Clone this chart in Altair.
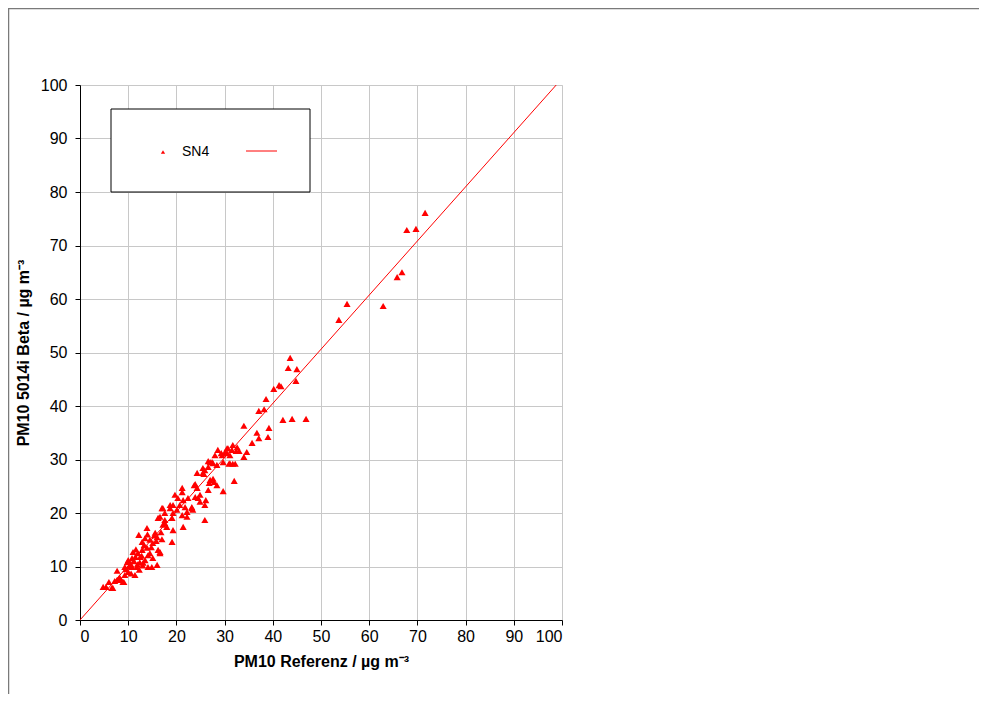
import altair as alt
import pandas as pd

# Measured points: PM10 reference (x) vs PM10 5014i Beta (y)
ref_x = [4.8, 5.4, 6.8, 6.0, 6.6, 7.7, 7.7, 8.5, 8.9, 9.1, 9.3, 10.0, 10.8, 11.4, 9.3, 10.0, 10.8, 11.8,
         12.4, 13.1, 11.0, 12.0, 12.9, 13.9, 14.1, 14.5, 15.1, 13.5, 16.6, 16.2, 12.2, 13.9, 12.9, 13.5,
         14.5, 15.1, 15.6, 16.0, 16.8, 17.0, 17.6, 18.0, 19.1, 19.3, 16.6, 17.2, 18.7, 19.3, 17.6, 16.0,
         14.9, 14.1, 16.6, 21.4, 25.9,
         10.5, 11.2, 12.5, 11.6, 12.8, 13.3, 10.2, 9.8, 11.9, 14.8, 15.4, 13.0, 12.3, 10.6, 14.0, 15.8,
         11.5, 9.5, 8.2, 7.2,
         17.2, 19.1, 21.2, 22.2, 16.2, 17.6, 17.0, 18.7, 19.3, 20.7, 20.1, 21.8, 23.2, 23.4, 22.2, 23.2,
         19.7, 20.3, 21.4, 22.4, 24.5, 24.9, 26.1, 25.9, 21.2, 21.2, 23.9, 24.9, 23.7, 24.3, 23.9, 26.6,
         29.7, 26.8, 28.4, 27.8, 27.0, 27.6, 32.0, 24.3, 25.5, 25.7, 25.9, 26.6, 25.5, 26.6, 27.0, 27.4,
         27.6, 28.4, 29.7, 30.9, 31.1, 31.7, 32.2, 28.0, 31.1, 29.5, 28.6, 29.3, 30.1, 30.5, 31.5, 30.5,
         30.7, 32.4, 33.0, 31.7, 32.6, 34.0, 34.6, 35.7, 34.0, 37.1, 36.7, 39.0, 39.2, 37.1, 38.2, 38.6,
         40.2, 41.3, 41.7, 42.1, 44.0, 46.9, 44.8, 43.2, 45.0, 43.6,
         53.7, 55.4, 62.9, 65.8, 66.8, 67.8, 69.7, 71.6]
beta_y = [6.2, 6.2, 6.0, 7.1, 6.0, 9.2, 7.5, 7.5, 7.1, 7.1, 8.4, 9.0, 9.9, 8.4, 9.9, 11.2, 11.6, 9.9,
          10.8, 10.7, 12.7, 12.5, 13.1, 13.5, 12.1, 12.5, 11.6, 11.2, 12.5, 13.1, 15.9, 17.2, 14.6, 15.3,
          15.0, 14.4, 16.3, 15.5, 16.4, 15.1, 18.1, 17.4, 14.6, 16.8, 19.3, 20.9, 21.5, 20.0, 20.0, 10.3,
          9.9, 9.9, 12.7, 17.4, 18.7,
          10.5, 11.0, 11.8, 13.2, 12.0, 14.0, 10.0, 10.8, 10.4, 13.6, 15.8, 10.2, 9.4, 8.7, 16.0, 14.8,
          11.8, 9.5, 8.0, 7.3,
          17.8, 19.1, 19.6, 19.3, 19.1, 18.7, 20.9, 20.9, 21.5, 21.5, 20.6, 21.1, 21.1, 20.6, 20.2, 20.9,
          23.4, 22.8, 22.4, 22.8, 22.8, 22.1, 22.4, 21.5, 24.7, 23.9, 23.0, 23.4, 25.2, 24.7, 25.4, 24.3,
          24.1, 25.6, 25.2, 25.8, 26.2, 26.4, 26.0, 27.5, 27.5, 27.3, 28.0, 28.6, 28.4, 29.7, 29.5, 29.5,
          29.3, 29.0, 29.5, 29.2, 29.3, 29.2, 29.2, 30.8, 30.8, 30.8, 31.8, 31.2, 31.4, 31.2, 31.8, 32.1,
          32.1, 31.6, 31.6, 32.7, 32.3, 30.5, 31.4, 33.1, 36.3, 34.0, 35.0, 34.2, 35.9, 39.1, 39.4, 41.3,
          43.2, 43.9, 43.7, 37.4, 37.6, 37.6, 44.7, 47.1, 46.9, 49.0,
          56.1, 59.1, 58.7, 64.1, 65.0, 72.9, 73.1, 76.1]

# Fitted line
fit_x = [0.0, 98.8]
fit_y = [0.0, 100.0]

tick_values = [0, 10, 20, 30, 40, 50, 60, 70, 80, 90, 100]
series_name = "SN4"

pts = pd.DataFrame({"x": ref_x, "y": beta_y})
fit = pd.DataFrame({"x": fit_x, "y": fit_y})
one = pd.DataFrame({"label": [series_name]})

FONT = "Liberation Sans"

xs = alt.Scale(domain=[0, 100], nice=False, zero=True)
ys = alt.Scale(domain=[0, 100], nice=False, zero=True)

x_axis = alt.Axis(values=tick_values, title="PM10 Referenz / µg m⁻³", grid=True,
                  gridColor="#c8c8c8", domainColor="black", tickColor="black", tickSize=5,
                  labelFontSize=16, labelColor="black", labelPadding=3,
                  titleFontSize=16, titleFontWeight="bold", titleColor="black", titlePadding=9)
y_axis = alt.Axis(values=tick_values, title="PM10 5014i Beta / µg m⁻³", grid=True,
                  gridColor="#c8c8c8", domainColor="black", tickColor="black", tickSize=5,
                  labelFontSize=16, labelColor="black", labelPadding=8,
                  titleFontSize=16, titleFontWeight="bold", titleColor="black", titlePadding=9)

points = alt.Chart(pts).mark_point(shape="triangle-up", filled=True, color="#ff0000",
                                   size=50, opacity=1).encode(
    x=alt.X("x:Q", scale=xs, axis=x_axis),
    y=alt.Y("y:Q", scale=ys, axis=y_axis),
)

line = alt.Chart(fit).mark_line(color="#ff0000", strokeWidth=1).encode(
    x=alt.X("x:Q", scale=xs), y=alt.Y("y:Q", scale=ys))

# legend box (decoration)
leg_box = alt.Chart(one).mark_rect(fill="white", stroke="black", strokeWidth=1).encode(
    x=alt.value(31), x2=alt.value(230), y=alt.value(24), y2=alt.value(107))
leg_sym = alt.Chart(one).mark_point(shape="triangle-up", filled=True, color="#ff0000",
                                    size=18, opacity=1).encode(
    x=alt.value(83), y=alt.value(67))
leg_txt = alt.Chart(one).mark_text(align="left", baseline="middle", fontSize=14,
                                   font=FONT, color="black").encode(
    x=alt.value(102), y=alt.value(67), text="label:N")
leg_line = alt.Chart(one).mark_rule(color="#ff0000", strokeWidth=1).encode(
    x=alt.value(166), x2=alt.value(197), y=alt.value(66))

# outer chart frame (top and left edges)
frame_top = alt.Chart(one).mark_rule(color="#7a7a7a", strokeWidth=1.5).encode(
    x=alt.value(-72), x2=alt.value(900), y=alt.value(-76.5))
frame_left = alt.Chart(one).mark_rule(color="#7a7a7a", strokeWidth=1.5).encode(
    x=alt.value(-71.5), y=alt.value(-77), y2=alt.value(700))

chart = alt.layer(frame_top, frame_left, points, line, leg_box, leg_sym, leg_txt, leg_line).properties(
    width=482, height=535,
    autosize=alt.AutoSizeParams(type="none"),
    padding={"left": 72, "top": 77, "right": 417, "bottom": 74},
    background="white",
).configure_view(stroke="black", strokeWidth=1).configure(font=FONT)

chart.save("out.html", embed_options={"renderer": "svg", "actions": False})
